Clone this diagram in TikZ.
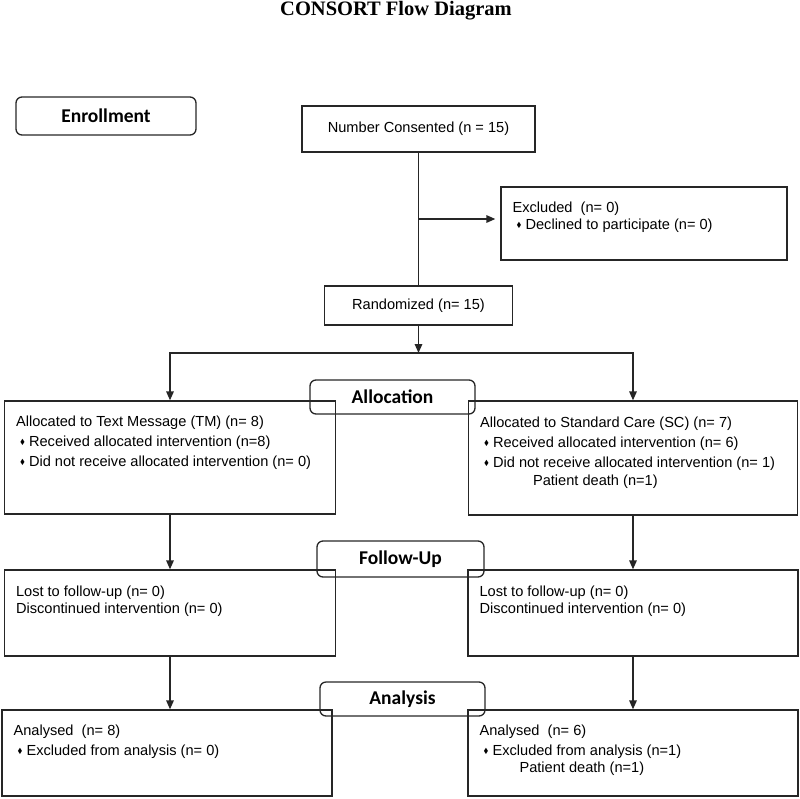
\documentclass[tikz,border=0pt]{standalone}
\usepackage{amssymb}
\usepackage{fontspec}
\setmainfont{Liberation Sans}
\newfontfamily\phasefont{Carlito}
\newfontfamily\titlefont{Liberation Serif}
\usetikzlibrary{arrows.meta, positioning, calc}

\newcommand{\dia}{\hspace*{4pt}\makebox[9pt][l]{\raisebox{2.2pt}{\scalebox{0.5}{$\blacklozenge$}}}}
\newcommand{\fl}{\rule{0pt}{11pt}}

\begin{document}
\begin{tikzpicture}[x=1pt, y=-1pt,
        box/.style={rectangle, draw=black!85, line width=1.3pt, inner sep=0pt, font=\fontsize{14.6}{17}\selectfont},
        phase/.style={rectangle, rounded corners=6pt, draw=black!85, line width=1.3pt, inner sep=0pt, font=\phasefont\bfseries\fontsize{19.5}{22}\selectfont},
        txt/.style={anchor=north west, align=left, inner sep=0pt, font=\fontsize{14.6}{17}\selectfont},
        arrow/.style={-{Triangle[length=9pt, width=7.5pt]}, line width=1.6pt, black!85}
    ]
        \useasboundingbox (0,0) rectangle (800,798);
        \node[font=\titlefont\bfseries\fontsize{20.5}{24}\selectfont, anchor=base] (title) at (396,15.5) {CONSORT Flow Diagram};

        % Enrollment
        \node[phase, minimum width=180pt, minimum height=38pt] (enrol) at (106,116) {Enrollment};
        \node[box, minimum width=233pt, minimum height=46pt] (cons) at (418.5,129) {Number Consented (n = 15)};
        \node[box, minimum width=286pt, minimum height=73pt] (excl) at (644,223.5) {};
        \node[txt] (exclt) at ([xshift=12pt, yshift=-15pt]excl.north west) {\fl Excluded\ \ (n= 0)\\ \dia Declined to participate (n= 0)};
        \node[box, minimum width=188pt, minimum height=39pt] (rand) at (418.5,305.5) {Randomized (n= 15)};
        \coordinate (exclin) at (418.5,219);
        \coordinate (split) at (418.5,353);
        \draw[line width=1.6pt, black!85] (cons.south) -- (rand.north);
        \draw[arrow, shorten >=5pt] (exclin) -- (exclin -| excl.west);
        \draw[arrow] (rand.south) -- (split);

        % Allocation
        \node[box, minimum width=331pt, minimum height=113pt] (alTM) at (170,457.5) {};
        \node[txt] (alTMt) at ([xshift=12pt, yshift=-15pt]alTM.north west) {\fl Allocated to Text Message (TM) (n= 8)\\[3pt] \dia Received allocated intervention (n=8)\\[3pt] \dia Did not receive allocated intervention (n= 0)};
        \node[box, minimum width=329pt, minimum height=114pt] (alSC) at (633,458) {};
        \node[txt] (alSCt) at ([xshift=12pt, yshift=-16pt]alSC.north west) {\fl Allocated to Standard Care (SC) (n= 7)\\[3pt] \dia Received allocated intervention (n= 6)\\[3pt] \dia Did not receive allocated intervention (n= 1)\\[1pt] \hspace*{53pt}Patient death (n=1)};
        \node[phase, minimum width=165pt, minimum height=34pt] (alloc) at (392.5,397) {Allocation};
        \draw[arrow] (split) -| (alTM.north);
        \draw[arrow] (split) -| (alSC.north);

        % Follow-Up
        \node[box, minimum width=331pt, minimum height=86pt] (fuTM) at (170,613) {};
        \node[txt] (fuTMt) at ([xshift=12pt, yshift=-16pt]fuTM.north west) {\fl Lost to follow-up (n= 0)\\ Discontinued intervention (n= 0)};
        \node[box, minimum width=330pt, minimum height=86pt] (fuSC) at (633,613) {};
        \node[txt] (fuSCt) at ([xshift=12pt, yshift=-16pt]fuSC.north west) {\fl Lost to follow-up (n= 0)\\ Discontinued intervention (n= 0)};
        \node[phase, minimum width=167pt, minimum height=36pt] (follow) at (400.5,559) {Follow-Up};
        \draw[arrow] (alTM.south) -- (fuTM.north);
        \draw[arrow] (alSC.south) -- (fuSC.north);

        % Analysis
        \node[box, minimum width=330pt, minimum height=86pt] (anTM) at (167,753) {};
        \node[txt] (anTMt) at ([xshift=12pt, yshift=-15pt]anTM.north west) {\fl Analysed\ \ (n= 8)\\[3pt] \dia Excluded from analysis (n= 0)};
        \node[box, minimum width=330pt, minimum height=86pt] (anSC) at (633,753) {};
        \node[txt] (anSCt) at ([xshift=12pt, yshift=-15pt]anSC.north west) {\fl Analysed\ \ (n= 6)\\[3pt] \dia Excluded from analysis (n=1)\\ \hspace*{40pt}Patient death (n=1)};
        \node[phase, minimum width=165pt, minimum height=34pt] (analysis) at (402.5,699) {Analysis};
        \draw[arrow] (fuTM.south) -- (fuTM.south |- anTM.north);
        \draw[arrow] (fuSC.south) -- (anSC.north);
    \end{tikzpicture}
\end{document}
